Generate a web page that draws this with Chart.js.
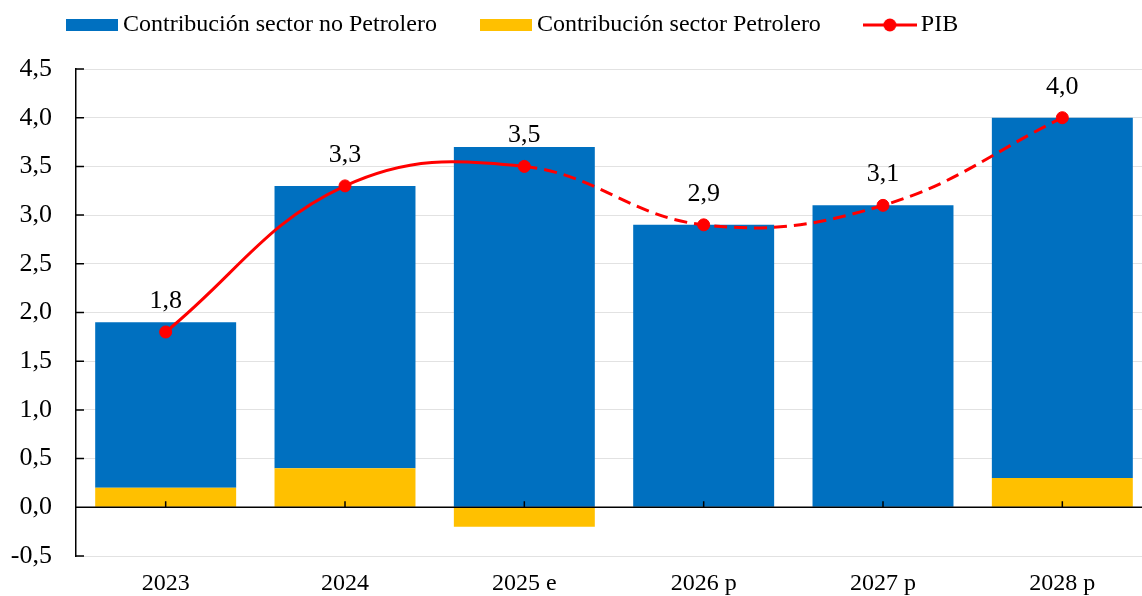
<!DOCTYPE html>
<html>
<head>
<meta charset="utf-8">
<script src="https://cdn.jsdelivr.net/npm/chart.js@4.4.0/dist/chart.umd.min.js"></script>
<style>
  html, body { margin: 0; padding: 0; background: #fff; overflow: hidden; width: 1142px; height: 596px; }
  /* plot runs slightly past the right edge of the window, as in the original */
  #wrap { width: 1152px; height: 596px; }
</style>
</head>
<body>
<div id="wrap"><canvas id="pibChart"></canvas></div>
<script>
const years = ['2023', '2024', '2025 e', '2026 p', '2027 p', '2028 p'];
const noPetrolero = [1.7, 2.9, 3.7, 2.9, 3.1, 3.7];
const petrolero = [0.2, 0.4, -0.2, 0.0, 0.0, 0.3];
const pib = [1.8, 3.3, 3.5, 2.9, 3.1, 4.0];
const yTicks = [-0.5, 0, 0.5, 1, 1.5, 2, 2.5, 3, 3.5, 4, 4.5];

const BLUE = '#0070C0';
const YELLOW = '#FFC000';
const RED = '#FF0000';
const SERIF = '"Liberation Serif", "Times New Roman", serif';

const fmt = v => v.toFixed(1).replace('.', ',');

// legend icons
function boxIcon(color) {
    const c = document.createElement('canvas');
    c.width = 52; c.height = 12;
    const g = c.getContext('2d');
    g.fillStyle = color;
    g.fillRect(0, 0, 52, 12);
    return c;
}
function lineIcon(color) {
    const c = document.createElement('canvas');
    c.width = 54; c.height = 14;
    const g = c.getContext('2d');
    g.strokeStyle = color;
    g.lineWidth = 3;
    g.beginPath(); g.moveTo(0, 7); g.lineTo(54, 7); g.stroke();
    g.fillStyle = color;
    g.beginPath(); g.arc(27, 7, 6.5, 0, Math.PI * 2); g.fill();
    return c;
}
const icons = [boxIcon(BLUE), boxIcon(YELLOW), lineIcon(RED)];

// y labels are mirrored (so they are not clipped) and pushed back left of the axis
const m = document.createElement('canvas').getContext('2d');
m.font = '26px ' + SERIF;
const widest = Math.max(...yTicks.map(v => m.measureText(fmt(v)).width));
const yLabelPad = -24 - widest;

// zero line, inner tick marks and value labels
const extras = {
    id: 'extras',
    afterDatasetsDraw(chart) {
        const { ctx, chartArea: a, scales: { x, y } } = chart;
        const y0 = y.getPixelForValue(0);
        ctx.save();
        ctx.strokeStyle = '#000';
        ctx.lineWidth = 1.5;
        ctx.beginPath();
        ctx.moveTo(a.left, y0);
        ctx.lineTo(a.right, y0);
        y.ticks.forEach(t => {
            const py = y.getPixelForValue(t.value);
            ctx.moveTo(a.left, py);
            ctx.lineTo(a.left + 8, py);
        });
        x.ticks.forEach((t, i) => {
            const px = x.getPixelForTick(i);
            ctx.moveTo(px, y0);
            ctx.lineTo(px, y0 - 6);
        });
        ctx.stroke();

        const meta = chart.getDatasetMeta(0);
        ctx.fillStyle = '#000';
        ctx.font = '26px ' + SERIF;
        ctx.textAlign = 'center';
        ctx.textBaseline = 'middle';
        meta.data.forEach((pt, i) => {
            ctx.fillText(fmt(pib[i]), pt.x, pt.y - 31);
        });
        ctx.restore();
    }
};

Chart.defaults.font.family = SERIF;
Chart.defaults.color = '#000';

const ctx = document.getElementById('pibChart').getContext('2d');
new Chart(ctx, {
    type: 'bar',
    data: {
        labels: years,
        datasets: [
            {
                type: 'line',
                label: 'PIB',
                data: pib,
                order: 0,
                stack: 'pib',
                borderColor: RED,
                borderWidth: 3,
                tension: 0.4,
                fill: false,
                pointRadius: 6,
                pointBackgroundColor: RED,
                pointBorderColor: RED,
                pointBorderWidth: 1,
                segment: {
                    borderDash: c => c.p0DataIndex >= 2 ? [13, 7] : []
                }
            },
            {
                label: 'Contribución sector Petrolero',
                data: petrolero,
                order: 1,
                stack: 'c',
                backgroundColor: YELLOW,
                categoryPercentage: 1,
                barPercentage: 0.786
            },
            {
                label: 'Contribución sector no Petrolero',
                data: noPetrolero,
                order: 2,
                stack: 'c',
                backgroundColor: BLUE,
                categoryPercentage: 1,
                barPercentage: 0.786
            }
        ]
    },
    options: {
        responsive: true,
        maintainAspectRatio: false,
        animation: false,
        layout: { autoPadding: false, padding: { left: 23, right: 0, top: -37, bottom: 0 } },
        plugins: {
            tooltip: { enabled: false },
            // empty title used as a spacer between legend and plot
            title: { display: true, text: '', weight: 500, padding: 0, font: { size: 22, lineHeight: 1 } },
            legend: {
                position: 'top',
                align: 'start',
                weight: 1000,
                labels: {
                    usePointStyle: true,
                    pointStyleWidth: 38,
                    padding: 50,
                    font: { size: 24 },
                    color: '#000',
                    generateLabels: () => [
                        { text: 'Contribución sector no Petrolero', pointStyle: icons[0], datasetIndex: 2, lineWidth: 0 },
                        { text: 'Contribución sector Petrolero', pointStyle: icons[1], datasetIndex: 1, lineWidth: 0 },
                        { text: 'PIB', pointStyle: icons[2], datasetIndex: 0, lineWidth: 0 }
                    ]
                }
            }
        },
        scales: {
            x: {
                stacked: true,
                afterFit: s => { s.height = 40; },
                grid: { display: false, drawTicks: false },
                border: { display: false },
                ticks: { font: { size: 24 }, color: '#000', padding: 13 }
            },
            y: {
                stacked: true,
                min: -0.5,
                max: 4.5,
                afterBuildTicks: s => { s.ticks = yTicks.map(v => ({ value: v })); },
                afterFit: s => { s.width = 53; },
                grid: {
                    drawTicks: false,
                    color: c => (c.tick && c.tick.value === 0) ? 'rgba(0,0,0,0)' : '#c4c4c4'
                },
                border: { display: true, color: '#000', width: 1.5, dash: [1, 1] },
                ticks: {
                    font: { size: 26 },
                    color: '#000',
                    mirror: true,
                    crossAlign: 'far',
                    padding: yLabelPad,
                    callback: v => fmt(v)
                }
            }
        }
    },
    plugins: [extras]
});
</script>
</body>
</html>
